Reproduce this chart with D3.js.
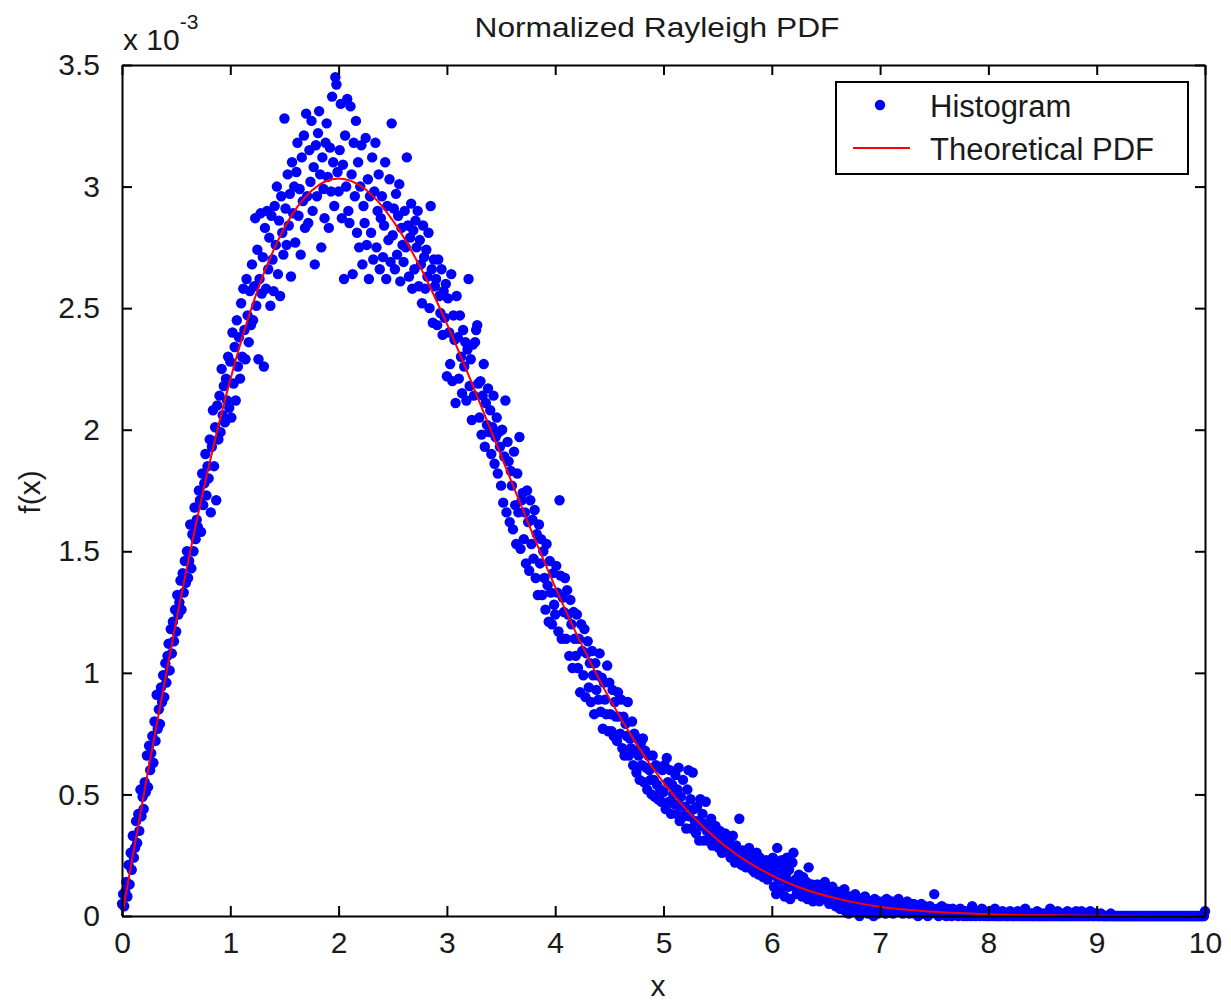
<!DOCTYPE html>
<html>
<head>
<meta charset="utf-8">
<script src="https://cdn.jsdelivr.net/npm/d3@7"></script>
<style>
  body { margin: 0; background: #fff; }
  svg text { font-family: "Liberation Sans", Arial, sans-serif; fill: #1a1a1a; }
</style>
</head>
<body>
<div id="chart-area"></div>
<script>
// histogram counts per 0.01 bin (N = 100000 samples)
var binStart = 0;
var binStep = 0.01;
var sampleCount = 100000;

var counts0 = [
  5, 9, 4, 10, 14, 8, 21, 13, 26, 19,
  33, 24, 28, 39, 30, 42, 35, 52, 41, 49,
  44, 55, 51, 66, 53, 70, 60, 67, 74, 63,
  80, 72, 91, 77, 85, 79, 94, 88, 99, 90,
  104, 96, 107, 112, 101, 118, 108, 121, 113, 126,
  117, 132, 124, 129, 138, 126, 141, 133, 146, 137,
  150, 139, 146, 161, 143, 157, 150, 168, 155, 163,
  160, 175, 171, 158, 182, 169, 178, 190, 173, 185,
  180, 196, 166, 193, 208, 185, 201, 171, 210, 196,
  214, 199, 225, 206, 218, 203, 221, 212, 230, 209
];
var counts1 = [
  228, 205, 240, 219, 234, 212, 245, 226, 238, 221,
  252, 230, 258, 241, 229, 262, 247, 236, 257, 243,
  268, 245, 259, 287, 251, 274, 229, 262, 289, 256,
  271, 226, 283, 258, 290, 266, 279, 251, 288, 270,
  257, 292, 276, 300, 264, 286, 255, 296, 281, 272,
  328, 291, 276, 305, 284, 297, 263, 310, 289, 300,
  277, 306, 318, 288, 299, 272, 312, 294, 321, 283,
  330, 296, 285, 315, 302, 327, 290, 308, 268, 317,
  296, 322, 331, 305, 275, 312, 299, 287, 318, 326,
  304, 283, 316, 298, 337, 310, 292, 345, 342, 306
];
var counts2 = [
  298, 315, 334, 287, 309, 262, 321, 300, 336, 290,
  285, 333, 305, 264, 318, 296, 327, 281, 310, 275,
  300, 317, 268, 292, 285, 320, 276, 303, 262, 296,
  281, 312, 270, 298, 318, 275, 290, 305, 266, 287,
  296, 271, 284, 310, 262, 292, 278, 303, 269, 326,
  280, 291, 266, 297, 272, 288, 301, 261, 283, 276,
  269, 290, 275, 312, 284, 263, 279, 293, 258, 282,
  266, 286, 275, 290, 259, 278, 268, 252, 284, 271,
  258, 274, 263, 281, 250, 292, 266, 244, 270, 259,
  262, 243, 270, 255, 248, 266, 239, 257, 246, 260
];
var counts3 = [
  222, 254, 240, 227, 264, 220, 247, 237, 211, 255,
  238, 221, 247, 230, 215, 241, 226, 236, 212, 233,
  262, 218, 229, 204, 235, 214, 236, 241, 243, 219,
  205, 220, 198, 214, 227, 193, 211, 202, 217, 199,
  208, 190, 201, 214, 186, 197, 205, 182, 199, 193,
  177, 200, 170, 189, 212, 166, 195, 187, 162, 183,
  177, 159, 191, 169, 153, 182, 166, 197, 151, 171,
  174, 155, 166, 145, 175, 162, 142, 171, 153, 163,
  147, 167, 139, 157, 132, 161, 145, 155, 132, 150,
  139, 126, 153, 136, 121, 146, 133, 120, 141, 128
];
var counts4 = [
  124, 144, 133, 117, 171, 140, 114, 131, 125, 139,
  114, 134, 124, 107, 130, 120, 102, 125, 114, 107,
  124, 102, 114, 92, 120, 109, 99, 118, 90, 108,
  113, 94, 104, 88, 109, 99, 83, 104, 93, 99,
  89, 108, 84, 98, 77, 96, 89, 83, 103, 76,
  96, 83, 76, 93, 74, 88, 82, 72, 92, 82,
  75, 89, 69, 82, 66, 79, 74, 88, 66, 73,
  69, 80, 62, 75, 68, 59, 73, 66, 56, 71,
  62, 73, 55, 68, 61, 52, 66, 60, 56, 50,
  66, 56, 49, 62, 54, 48, 61, 52, 47, 60
];
var counts5 = [
  51, 62, 44, 65, 55, 47, 60, 42, 54, 50,
  46, 58, 42, 52, 61, 39, 49, 45, 56, 41,
  45, 36, 52, 60, 41, 48, 36, 59, 44, 39,
  34, 45, 39, 31, 48, 37, 42, 31, 38, 47,
  35, 31, 38, 33, 40, 29, 36, 32, 37, 30,
  33, 28, 35, 30, 26, 32, 29, 34, 27, 31,
  26, 30, 24, 28, 33, 25, 22, 29, 27, 23,
  40, 25, 21, 27, 23, 26, 20, 24, 22, 28,
  21, 25, 19, 23, 18, 22, 26, 20, 17, 24,
  19, 22, 16, 20, 18, 23, 15, 21, 17, 19
];
var counts6 = [
  17, 24, 12, 21, 9, 28, 15, 19, 11, 23,
  15, 21, 8, 17, 24, 12, 19, 7, 14, 22,
  26, 12, 15, 9, 14, 17, 11, 13, 8, 16,
  12, 10, 14, 7, 20, 11, 9, 13, 6, 12,
  10, 8, 13, 11, 6, 9, 12, 7, 10, 14,
  9, 11, 7, 5, 10, 8, 12, 6, 9, 4,
  8, 6, 10, 3, 7, 9, 5, 11, 2, 7,
  6, 1, 8, 5, 2, 7, 4, 9, 3, 6,
  5, 0, 7, 4, 6, 2, 8, 3, 5, 1,
  4, 6, 2, 5, 0, 7, 3, 4, 1, 6
];
var counts7 = [
  3, 5, 2, 6, 4, 1, 7, 3, 5, 2,
  4, 6, 1, 3, 5, 2, 4, 7, 3, 2,
  5, 1, 3, 4, 2, 6, 3, 1, 4, 2,
  3, 5, 1, 2, 4, 0, 3, 2, 5, 1,
  2, 4, 1, 3, 0, 2, 4, 1, 3, 2,
  9, 2, 1, 3, 0, 2, 1, 4, 2, 1,
  2, 0, 3, 1, 2, 1, 0, 3, 1, 2,
  1, 2, 0, 1, 3, 1, 2, 0, 1, 2,
  0, 1, 2, 1, 0, 4, 1, 2, 0, 1,
  2, 1, 0, 1, 3, 1, 0, 2, 1, 0
];
var counts8 = [
  1, 0, 2, 1, 0, 1, 3, 0, 1, 0,
  0, 1, 0, 2, 1, 0, 1, 0, 0, 1,
  2, 0, 1, 0, 0, 1, 0, 2, 0, 1,
  0, 1, 0, 0, 3, 0, 1, 0, 1, 0,
  1, 0, 0, 1, 0, 2, 0, 0, 1, 0,
  0, 1, 0, 0, 1, 0, 0, 3, 0, 1,
  0, 0, 1, 0, 2, 0, 0, 1, 0, 0,
  1, 0, 0, 2, 0, 1, 0, 0, 1, 0,
  0, 2, 0, 1, 0, 0, 2, 0, 0, 1,
  0, 1, 0, 0, 2, 0, 1, 0, 0, 1
];
var counts9 = [
  1, 0, 0, 0, 1, 0, 0, 0, 0, 0,
  0, 0, 0, 1, 0, 0, 0, 0, 0, 0,
  0, 0, 0, 0, 0, 0, 0, 0, 0, 0,
  0, 0, 0, 0, 0, 0, 0, 0, 0, 0,
  0, 0, 0, 0, 0, 0, 0, 0, 0, 0,
  0, 0, 0, 0, 0, 0, 0, 0, 0, 0,
  0, 0, 0, 0, 0, 0, 0, 0, 0, 0,
  0, 0, 0, 0, 0, 0, 0, 0, 0, 0,
  0, 0, 0, 0, 0, 0, 0, 0, 0, 0,
  0, 0, 0, 0, 0, 0, 0, 0, 0, 0,
  2
];

// theoretical pdf (units of 1e-3)
var pdfX = [0, 0.25, 0.5, 0.75, 1, 1.25, 1.5, 1.75, 2, 2.25, 2.5, 2.75, 3, 3.25, 3.5, 3.75,
            4, 4.25, 4.5, 4.75, 5, 5.25, 5.5, 5.75, 6, 6.25, 6.5, 6.75, 7, 7.5, 8, 8.5, 9, 9.5, 10];
var pdfY = [0, 0.620, 1.212, 1.748, 2.206, 2.571, 2.831, 2.983, 3.033, 2.988, 2.861, 2.672, 2.435, 2.170, 1.893, 1.617,
            1.353, 1.111, 0.895, 0.708, 0.549, 0.419, 0.313, 0.231, 0.167, 0.118, 0.083, 0.057, 0.038, 0.017, 0.007, 0.003, 0.001, 0, 0];

var xTicks = [0, 1, 2, 3, 4, 5, 6, 7, 8, 9, 10];
var yTicks = [0, 0.5, 1, 1.5, 2, 2.5, 3, 3.5];

var W = 1231, H = 1001;
var plotLeft = 122, plotRight = 1205, plotTop = 65, plotBottom = 916;

var svg = d3.select("#chart-area").append("svg")
    .attr("width", W)
    .attr("height", H);

var x = d3.scaleLinear().domain([0, 10]).range([plotLeft, plotRight]);
var y = d3.scaleLinear().domain([0, 3.5]).range([plotBottom, plotTop]);

var counts = [].concat(counts0, counts1, counts2, counts3, counts4, counts5, counts6, counts7, counts8, counts9);
var hist = counts.map((c, i) => ({ x: binStart + i * binStep, y: c / sampleCount * 1000 }));

var plot = svg.append("g");

plot.selectAll("circle.pt")
    .data(hist)
    .enter()
    .append("circle")
        .attr("class", "pt")
        .attr("cx", (d) => x(d.x))
        .attr("cy", (d) => y(d.y))
        .attr("r", 5.2)
        .attr("fill", "#0000ff");

var line = d3.line()
    .x((d, i) => x(pdfX[i]))
    .y((d) => y(d))
    .curve(d3.curveMonotoneX);

plot.append("path")
    .datum(pdfY)
    .attr("d", line)
    .attr("fill", "none")
    .attr("stroke", "#ff0000")
    .attr("stroke-width", 2);

// axes, MATLAB style: box with inward ticks on all sides
var tickLen = 10;
function styleAxis(g) {
    g.select(".domain").attr("stroke", "#000").attr("stroke-width", 2);
    g.selectAll(".tick line").attr("stroke", "#000").attr("stroke-width", 2);
    g.selectAll(".tick text").attr("font-size", "30px").attr("fill", "#1a1a1a")
        .attr("font-family", "Liberation Sans, Arial, sans-serif");
}

svg.append("g")
    .attr("transform", "translate(0," + plotBottom + ")")
    .call(d3.axisBottom(x).tickValues(xTicks).tickSizeInner(-tickLen).tickSizeOuter(0).tickPadding(16))
    .call(styleAxis);

svg.append("g")
    .attr("transform", "translate(0," + plotTop + ")")
    .call(d3.axisTop(x).tickValues(xTicks).tickSizeInner(-tickLen).tickSizeOuter(0).tickFormat(""))
    .call(styleAxis);

svg.append("g")
    .attr("transform", "translate(" + plotLeft + ",0)")
    .call(d3.axisLeft(y).tickValues(yTicks).tickSizeInner(-tickLen).tickSizeOuter(0).tickPadding(22)
        .tickFormat((d) => d3.format("")(d)))
    .call(styleAxis);

svg.append("g")
    .attr("transform", "translate(" + plotRight + ",0)")
    .call(d3.axisRight(y).tickValues(yTicks).tickSizeInner(-tickLen).tickSizeOuter(0).tickFormat(""))
    .call(styleAxis);

// exponent label
var expo = svg.append("text")
    .attr("x", plotLeft + 1)
    .attr("y", 50)
    .attr("font-size", "30px");
expo.append("tspan").text("x 10");
expo.append("tspan").attr("dy", -21).attr("font-size", "21px").text("-3");

// title and axis labels
svg.append("text")
    .attr("x", 657)
    .attr("y", 37)
    .attr("text-anchor", "middle")
    .attr("font-size", "28px")
    .attr("textLength", 365)
    .attr("lengthAdjust", "spacingAndGlyphs")
    .text("Normalized Rayleigh PDF");

svg.append("text")
    .attr("x", 658)
    .attr("y", 996)
    .attr("text-anchor", "middle")
    .attr("font-size", "30px")
    .text("x");

svg.append("text")
    .attr("transform", "translate(40," + 492 + ") rotate(-90)")
    .attr("text-anchor", "middle")
    .attr("font-size", "30px")
    .text("f(x)");

// legend
var legend = svg.append("g");
legend.append("rect")
    .attr("x", 836).attr("y", 82)
    .attr("width", 352).attr("height", 92)
    .attr("fill", "#fff")
    .attr("stroke", "#000")
    .attr("stroke-width", 2);
legend.append("circle")
    .attr("cx", 880).attr("cy", 105).attr("r", 5.2)
    .attr("fill", "#0000ff");
legend.append("line")
    .attr("x1", 853).attr("x2", 910)
    .attr("y1", 148).attr("y2", 148)
    .attr("stroke", "#ff0000").attr("stroke-width", 2);
legend.append("text")
    .attr("x", 930).attr("y", 117)
    .attr("font-size", "31px")
    .text("Histogram");
legend.append("text")
    .attr("x", 930).attr("y", 160)
    .attr("font-size", "31px")
    .text("Theoretical PDF");
</script>
</body>
</html>
